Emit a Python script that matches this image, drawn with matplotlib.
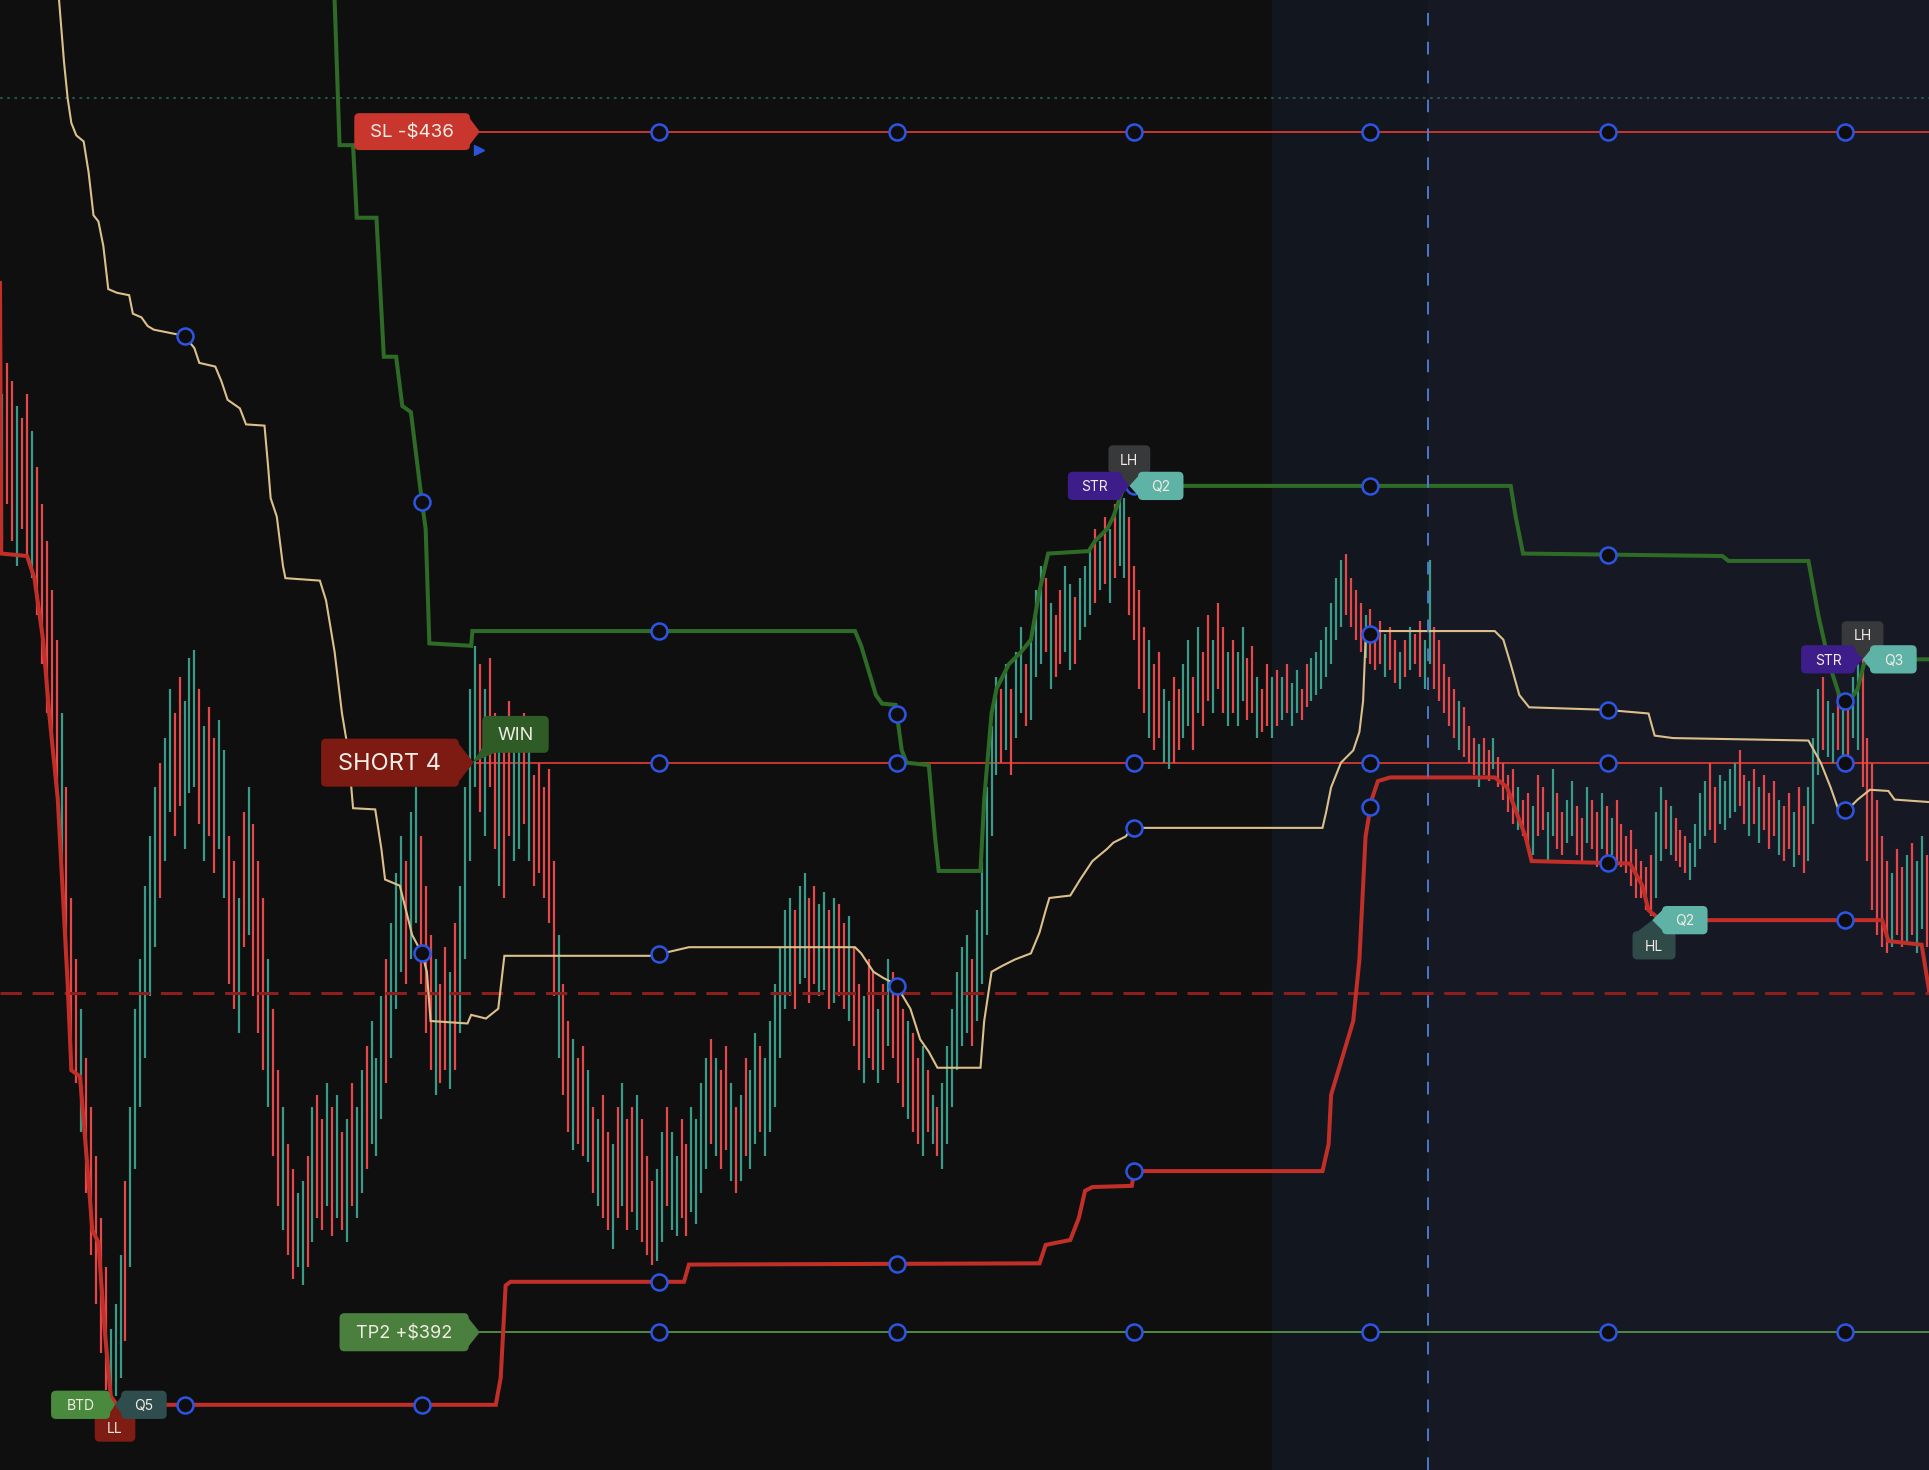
import matplotlib.pyplot as plt
from matplotlib.patches import FancyBboxPatch, Polygon
import numpy as np

plt.rcParams['font.family'] = ['Inter', 'DejaVu Sans']

# ===============================
# Price bars (4-minute bars)
# ===============================
bar_high = [
    880, 905, 890, 870, 860, 880, 850, 820, 790, 760,
    720, 680, 620, 560, 470, 420, 380, 340, 300, 260,
    210, 170, 120, 140, 180, 240, 300, 380, 420, 480,
    520, 560, 580, 600, 640, 620, 650, 630, 665, 672,
    640, 610, 625, 600, 615, 590, 520, 500, 470, 540,
    560, 530, 500, 470, 420, 380, 330, 300, 270, 250,
    230, 240, 260, 300, 310, 290, 320, 300, 310, 280,
    290, 320, 300, 330, 350, 370, 340, 390, 420, 450,
    490, 520, 500, 540, 560, 520, 480, 440, 420, 400,
    430, 410, 450, 480, 560, 640, 675, 660, 640, 665,
    620, 600, 590, 630, 615, 600, 620, 590, 570, 580,
    560, 575, 500, 440, 400, 370, 355, 340, 350, 330,
    300, 290, 310, 280, 270, 300, 320, 290, 300, 310,
    290, 260, 240, 250, 280, 300, 280, 260, 290, 270,
    300, 290, 320, 340, 355, 340, 330, 350, 320, 300,
    310, 340, 330, 360, 350, 340, 370, 400, 430, 460,
    470, 460, 480, 490, 470, 480, 465, 475, 460, 470,
    465, 450, 455, 430, 400, 390, 420, 410, 380, 400,
    420, 410, 395, 380, 370, 360, 340, 350, 330, 310,
    300, 320, 350, 380, 410, 430, 440, 420, 460, 500,
    560, 610, 650, 640, 660, 640, 670, 690, 660, 680,
    720, 740, 730, 710, 700, 720, 740, 725, 715, 730,
    740, 755, 770, 760, 780, 770, 790, 798, 795, 780,
    740, 720, 690, 680, 660, 670, 640, 630, 650, 640,
    660, 680, 650, 690, 670, 700, 680, 710, 690, 670,
    680, 670, 690, 665, 675, 650, 640, 660, 650, 655,
    650, 660, 645, 655, 640, 660, 665, 670, 680, 690,
    710, 730, 745, 750, 730, 720, 710, 700, 705, 690,
    695, 685, 690, 680, 670, 680, 690, 685, 695, 680,
    745, 690, 680, 660, 650, 640, 630, 625, 610, 600,
    595, 600, 590, 600, 585, 580, 570, 575, 560, 550,
    555, 545, 570, 560, 540, 575, 555, 540, 550, 565,
    545, 535, 560, 550, 540, 555, 545, 535, 550, 530,
    520, 525, 510, 500, 495, 505, 540, 560, 550, 545,
    535, 525, 520, 515, 530, 555, 565, 580, 560, 570,
    565, 575, 580, 590, 570, 565, 575, 560, 570, 555,
    565, 550, 545, 555, 540, 560, 545, 560, 600, 640,
    650, 630, 620, 640, 625, 635, 650, 660, 665, 600,
    580, 550, 520, 500, 490, 510, 495, 505, 515, 500, 520, 505,
]
bar_low = [
    760, 790, 760, 740, 770, 750, 730, 700, 660, 620,
    600, 560, 500, 420, 330, 320, 280, 230, 180, 140,
    100, 70, 62, 65, 80, 110, 170, 250, 300, 340,
    390, 430, 470, 500, 540, 520, 545, 510, 555, 560,
    530, 500, 520, 490, 510, 470, 400, 380, 360, 430,
    440, 390, 360, 330, 300, 260, 220, 200, 180, 160,
    170, 155, 170, 190, 210, 200, 220, 195, 210, 200,
    190, 220, 210, 230, 250, 270, 260, 290, 320, 340,
    380, 410, 400, 420, 450, 400, 360, 330, 310, 320,
    330, 315, 330, 360, 420, 500, 560, 540, 520, 560,
    510, 480, 470, 520, 500, 510, 530, 500, 480, 490,
    470, 450, 390, 340, 310, 280, 265, 270, 260, 255,
    230, 220, 210, 200, 185, 210, 220, 200, 215, 200,
    190, 180, 172, 175, 190, 220, 200, 195, 210, 195,
    215, 205, 230, 250, 270, 260, 250, 265, 240, 230,
    240, 260, 250, 270, 280, 260, 280, 300, 340, 380,
    390, 380, 400, 405, 385, 400, 390, 395, 380, 385,
    390, 380, 370, 350, 330, 320, 340, 330, 320, 330,
    350, 340, 320, 300, 290, 280, 270, 260, 280, 270,
    260, 250, 270, 300, 330, 350, 360, 350, 370, 400,
    440, 520, 570, 580, 590, 570, 600, 620, 610, 615,
    650, 660, 670, 640, 650, 660, 670, 655, 660, 680,
    690, 700, 710, 720, 725, 710, 730, 740, 730, 700,
    680, 640, 620, 600, 590, 600, 580, 575, 580, 590,
    600, 610, 590, 620, 610, 630, 620, 640, 620, 610,
    620, 610, 630, 615, 620, 600, 605, 610, 600, 610,
    615, 620, 610, 620, 615, 625, 630, 635, 640, 650,
    660, 680, 690, 700, 690, 680, 670, 665, 660, 655,
    660, 650, 655, 645, 640, 650, 655, 660, 650, 640,
    660, 640, 630, 620, 610, 600, 590, 585, 580, 570,
    560, 570, 565, 575, 560, 550, 540, 530, 525, 520,
    510, 505, 520, 525, 500, 520, 510, 505, 515, 520,
    505, 500, 515, 510, 495, 510, 500, 505, 500, 495,
    490, 480, 470, 470, 460, 455, 470, 500, 510, 505,
    500, 495, 490, 485, 495, 510, 520, 525, 515, 530,
    525, 535, 540, 545, 530, 520, 530, 515, 525, 510,
    520, 505, 500, 510, 495, 505, 490, 500, 530, 570,
    590, 585, 580, 590, 575, 585, 600, 590, 560, 500,
    460, 440, 430, 425, 430, 440, 430, 435, 440, 425, 445, 430,
]
# u = up bar, d = down bar
bar_dir = "".join([
    "uddudduddd", "dduddduddd", "dduuuduuuu", "uuduudduuu", "dudduuddud",
    "uddduddudd", "uududdudud", "uduuduuudu", "uuduudddud", "duduuuudud",
    "dudduududd", "dddudduddu", "duddududdu", "ddduuduudd", "uuuududdud",
    "uduuduuuuu", "uduudduudu", "ddudduddud", "uddduddudu", "duuuuuuduu",
    "uuududuudu", "uududduudu", "uudududuud", "dddudduudd", "uududduddu",
    "duudduddud", "uduudduuuu", "uuuddddudd", "duddududdu", "uddddduddd",
    "udduddddud", "dudduudduu", "dduddududd", "dddddduudu", "ddduuuuddu",
    "uuuddududd", "duddudduuu", "duududuudd", "ddddudduduud",
])

# ===============================
# Indicator lines (time, price)
# ===============================
upper_band = [
    (272, 1200), (276, 1082), (287, 1082), (290, 1023), (306, 1023), (312, 910),
    (322, 910), (327, 870), (334, 865), (343, 792), (346, 770), (349, 677),
    (383, 675), (384, 687), (695, 687), (700, 675), (712, 635), (717, 628),
    (728, 627), (733, 590), (737, 580), (755, 578), (760, 520), (763, 492),
    (797, 492), (800, 550), (806, 620), (810, 640), (820, 660), (830, 670),
    (838, 680), (845, 720), (852, 750), (885, 752), (890, 760), (900, 770),
    (905, 780), (912, 800), (916, 805), (1228, 805), (1232, 780), (1238, 750),
    (1400, 748), (1405, 744), (1470, 744), (1478, 700), (1487, 660), (1495, 635),
    (1502, 628), (1510, 640), (1515, 660), (1522, 664), (1568, 664),
]
lower_band = [
    (0, 970), (1, 750), (22, 748), (28, 730), (35, 680), (40, 620), (47, 550),
    (55, 400), (58, 330), (65, 325), (72, 240), (75, 200), (80, 190), (85, 120),
    (90, 65), (95, 58), (403, 58), (407, 80), (411, 155), (415, 158), (556, 158),
    (560, 172), (845, 173), (850, 188), (870, 192), (877, 210), (882, 232),
    (888, 235), (920, 236), (922, 248), (1075, 248), (1080, 270), (1082, 310),
    (1100, 370), (1105, 420), (1110, 520), (1115, 550), (1120, 565), (1130, 568),
    (1215, 568), (1225, 560), (1240, 520), (1245, 500), (1325, 498), (1335, 480),
    (1340, 460), (1350, 452), (1530, 452), (1535, 435), (1562, 432), (1568, 395),
]
mid_line = [
    (48, 1200), (52, 1150), (55, 1120), (58, 1100), (62, 1090), (68, 1085),
    (72, 1060), (76, 1025), (80, 1020), (84, 1000), (88, 965), (95, 962),
    (105, 960), (108, 945), (115, 942), (120, 935), (125, 932), (135, 930),
    (150, 927), (158, 917), (162, 905), (175, 902), (180, 890), (185, 875),
    (195, 868), (200, 855), (215, 854), (218, 820), (220, 795), (225, 780),
    (230, 740), (232, 730), (260, 728), (265, 712), (272, 670), (278, 620),
    (283, 590), (287, 543), (305, 542), (310, 510), (313, 485), (325, 480),
    (335, 440), (343, 425), (347, 410), (350, 370), (380, 368), (383, 375),
    (395, 372), (405, 380), (410, 423), (530, 423), (560, 430), (695, 430),
    (700, 425), (710, 410), (718, 405), (728, 400), (740, 380), (748, 355),
    (755, 345), (762, 332), (797, 332), (800, 370), (806, 410), (815, 415),
    (825, 420), (838, 425), (845, 442), (850, 460), (853, 470), (870, 472),
    (878, 485), (888, 500), (900, 510), (905, 515), (915, 520), (920, 527),
    (1075, 527), (1078, 540), (1082, 560), (1090, 580), (1100, 590), (1105, 605),
    (1108, 630), (1110, 680), (1116, 687), (1215, 687), (1222, 680), (1228, 660),
    (1235, 635), (1243, 625), (1305, 623), (1340, 620), (1345, 602), (1360, 600),
    (1470, 598), (1480, 580), (1488, 560), (1495, 540), (1502, 542), (1510, 550),
    (1520, 558), (1535, 557), (1540, 550), (1568, 548),
]

# ===============================
# Trade levels / events
# ===============================
entry_time = 386
sl_price = 1093
entry_price = 580
tp2_price = 117
prev_level = 393
top_level = 1120
session_start = 1034
cursor_time = 1161
end_time = 1568
marker_times = [150, 343, 536, 729, 922, 1114, 1307, 1500]

pivot_ll = (93.5, 58)
pivot_lh1 = (918, 805)
pivot_lh2 = (1514, 664)
pivot_hl = (1343, 452)

TXT = "#f2eee4"


def tag(ax, tx, ty, text, side, w, h, color, fs=10, aw=7, dx=0, z=9):
    if side == "right":
        x1 = tx - aw
        x0 = x1 - w
        y0, y1 = ty - h / 2, ty + h / 2
        tri = [(x1 - 3, y1 - 0.5), (tx, ty), (x1 - 3, y0 + 0.5)]
    elif side == "left":
        x0 = tx + aw
        x1 = x0 + w
        y0, y1 = ty - h / 2, ty + h / 2
        tri = [(x0 + 3, y1 - 0.5), (tx, ty), (x0 + 3, y0 + 0.5)]
    elif side == "up":
        x0, x1 = tx + dx - w / 2, tx + dx + w / 2
        y1 = ty - aw
        y0 = y1 - h
        tri = [(x0 + 0.5, y1 - 3), (tx, ty), (x1 - 0.5, y1 - 3)]
    else:
        x0, x1 = tx + dx - w / 2, tx + dx + w / 2
        y0 = ty + aw
        y1 = y0 + h
        tri = [(x0 + 0.5, y0 + 3), (tx, ty), (x1 - 0.5, y0 + 3)]
    ax.add_patch(FancyBboxPatch((x0, y0), x1 - x0, y1 - y0,
                                boxstyle="round,pad=0,rounding_size=4",
                                fc=color, ec="none", zorder=z))
    ax.add_patch(Polygon(tri, closed=True, fc=color, ec="none", zorder=z))
    ax.text((x0 + x1) / 2, (y0 + y1) / 2 - 1, text, color=TXT, fontsize=fs,
            ha="center", va="center", zorder=z + 0.5)


def dots(ax, line, times):
    t, p = np.array(line, dtype=float).T
    ts = [x for x in times if t[0] <= x <= t[-1]]
    ax.plot(ts, np.interp(ts, t, p), "o", ms=11.5, mfc="#0e0e11",
            mec="#2c55e4", mew=1.8, zorder=7)


fig = plt.figure(figsize=(19.29, 14.70), dpi=100, facecolor="#0f0f0f")
ax = fig.add_axes([0, 0, 1, 1])
ax.set_facecolor("#0f0f0f")
ax.set_xlim(0, end_time)
ax.set_ylim(5, 1200)
ax.set_axis_off()

# session backgrounds
ax.axvspan(session_start, cursor_time, color="#12161f", zorder=0)
ax.axvspan(cursor_time, end_time, color="#161823", zorder=0)

# reference lines
ax.axhline(top_level, color="#2b5553", lw=1.3, ls=(0, (1.5, 2.5)), zorder=1)
ax.axhline(prev_level, color="#8c1e1e", lw=2.2, ls=(0, (7, 3.5)), zorder=3.5)
ax.axvline(cursor_time, color="#5080dc", lw=1.3, ls=(0, (7, 9)), zorder=6)

# trade levels
ax.hlines(sl_price, entry_time, end_time, color="#c8362e", lw=1.4, zorder=2)
ax.hlines(entry_price, entry_time, end_time, color="#c8362e", lw=1.4, zorder=2)
ax.hlines(tp2_price, entry_time, end_time, color="#4f8a43", lw=1.4, zorder=2)

# price bars
n = min(len(bar_high), len(bar_low), len(bar_dir))
bt = 2 + 4 * np.arange(n)
hi = np.array(bar_high[:n])
lo = np.array(bar_low[:n])
up = np.array([c == "u" for c in bar_dir[:n]])
ax.vlines(bt[up], lo[up], hi[up], color="#3a9c88", lw=1.6, zorder=3)
ax.vlines(bt[~up], lo[~up], hi[~up], color="#e5484a", lw=1.6, zorder=3)

# bands
for line, col, lw in [(mid_line, "#dcc08c", 1.5),
                      (upper_band, "#2e6b26", 2.9),
                      (lower_band, "#c22f28", 2.9)]:
    t, p = np.array(line, dtype=float).T
    ax.plot(t, p, color=col, lw=lw, zorder=5, solid_joinstyle="miter")
    dots(ax, line, marker_times)

level_times = [x for x in marker_times if x > entry_time]
for lvl in (sl_price, entry_price, tp2_price):
    ax.plot(level_times, [lvl] * len(level_times), "o", ms=11.5, mfc="#0e0e11",
            mec="#2c55e4", mew=1.8, zorder=7)

# trade tags
tag(ax, entry_time + 4, sl_price, "SL -$436", "right", 94, 30, "#c9362e", fs=13.5, aw=8)
ax.plot(entry_time + 3, sl_price - 15, marker=">", ms=7, color="#2a55d8", zorder=9)
tag(ax, entry_time - 1, entry_price, "SHORT 4", "right", 112, 39, "#7d1a12", fs=17, aw=12)
tag(ax, entry_time + 4, tp2_price, "TP2 +$392", "right", 105, 31, "#4b7f3e", fs=13, aw=9)

# WIN tag with tail
ax.add_patch(FancyBboxPatch((392, entry_price + 8), 54, 30,
                            boxstyle="round,pad=0,rounding_size=4",
                            fc="#2f5b27", ec="none", zorder=9))
ax.add_patch(Polygon([(392.5, entry_price + 13), (403, entry_price + 8.5),
                      (entry_time - 2, entry_price)], fc="#2f5b27", ec="none", zorder=9))
ax.text(419, entry_price + 22, "WIN", color=TXT, fontsize=13, ha="center",
        va="center", zorder=9.5)

# pivot tags
tx, ty = pivot_ll
tag(ax, tx, ty, "LL", "up", 33, 22, "#7f1d14", aw=8)
tag(ax, tx, ty, "BTD", "right", 48, 23, "#4a8a3e", aw=4)
tag(ax, tx, ty, "Q5", "left", 37, 23, "#2f4d4d", aw=5)

tx, ty = pivot_lh1
tag(ax, tx, ty, "LH", "down", 34, 23, "#38393b", aw=10)
tag(ax, tx, ty, "STR", "right", 44, 23, "#3d1d8a", aw=6)
tag(ax, tx, ty, "Q2", "left", 37, 23, "#5fb2a6", aw=7)

tx, ty = pivot_lh2
tag(ax, tx, ty, "LH", "down", 34, 22, "#38393b", aw=9)
tag(ax, tx, ty, "STR", "right", 44, 23, "#3d1d8a", aw=6)
tag(ax, tx, ty, "Q3", "left", 38, 23, "#5fb2a6", aw=6)

tx, ty = pivot_hl
tag(ax, tx, ty, "HL", "up", 35, 23, "#2f4a48", dx=1.5, aw=9)
tag(ax, tx, ty, "Q2", "left", 37, 23, "#5fb2a6", aw=8)

fig.savefig("out.png", dpi=100, facecolor=fig.get_facecolor())
